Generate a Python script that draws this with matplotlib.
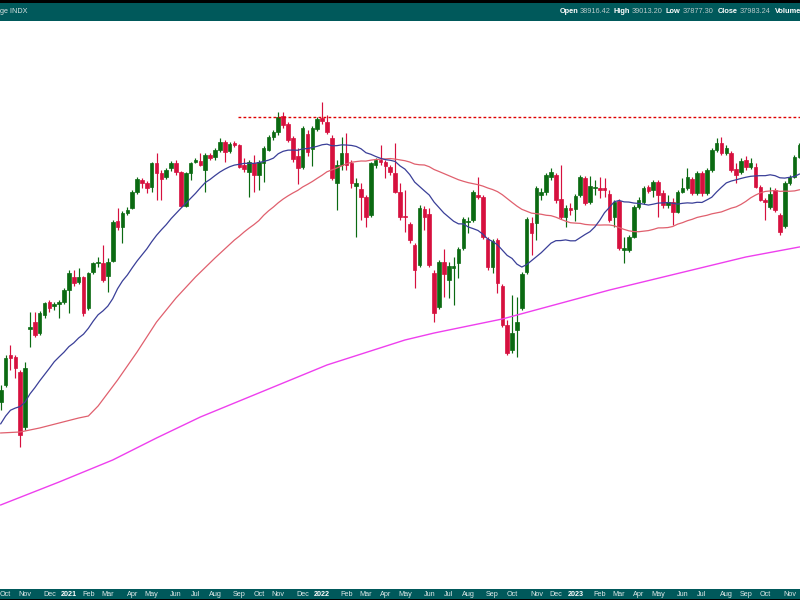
import numpy as np
import pandas as pd
import matplotlib
matplotlib.use("Agg")
import matplotlib.pyplot as plt
from matplotlib.patches import Rectangle

# ---------------- data (weekly candles, Dow Jones Industrial Average) ----------------
start_date = "2020-10-02"

opens = [
    27351, 27821, 28671, 28613, 28186, 26673, 29428, 29635, 29310, 29845,
    30236, 30115, 30175, 30236, 30601, 31004, 30848, 31004, 30055, 31160,
    31427, 31443, 31035, 31506, 32794, 32598, 33060, 33225, 33763, 34172,
    34068, 33932, 34760, 34413, 34274, 34585, 34760, 34447, 33292, 34413,
    34795, 34830, 34516, 35039, 34969, 35215, 35499, 35180, 35463, 35392,
    34690, 34447, 34760, 34344, 34760, 35215, 35677, 35856, 36437, 36145,
    35641, 35004, 34620, 35785, 35250, 35965, 36364, 36218, 35641, 34068,
    34690, 35110, 34760, 33966, 33864, 33594, 32993, 34690, 34865, 34795,
    34620, 34413, 33763, 32960, 32696, 32015, 31380, 33192, 33026, 31128,
    30085, 31474, 30910, 31285, 31443, 31919, 32760, 32828, 33661, 33594,
    32208, 31316, 32176, 30725, 29546, 28815, 29399, 30055, 31160, 32729,
    32729, 33661, 33763, 34274, 34344, 33527, 32927, 33225, 33192, 33661,
    34240, 33426, 33898, 33898, 33898, 33696, 32927, 33459, 31855, 31855,
    32273, 33258, 33426, 33932, 33830, 34103, 33729, 33325, 33426, 33093,
    33763, 33898, 34206, 33729, 34413, 33729, 34516, 35215, 35463, 35110,
    35110, 34551, 34447, 34865, 34620, 34620, 33932, 33493, 33258, 33830,
    32993, 32631, 34068, 34274, 34969]

highs = [
    27821, 28671, 28960, 28671, 28243, 28470, 29934, 29934, 29965, 30236,
    30297, 30236, 30297, 30663, 31223, 31223, 31285, 31035, 31160, 31474,
    31632, 32015, 31600, 32828, 33225, 33126, 33258, 33830, 34274, 34240,
    34137, 34795, 35110, 34516, 34585, 34830, 34865, 34482, 34447, 34795,
    34935, 35110, 35110, 35110, 35286, 35641, 35570, 35499, 35534, 35428,
    34935, 34865, 35039, 34865, 35357, 35749, 35929, 36583, 36583, 36218,
    35713, 35286, 36073, 35929, 36073, 36400, 36952, 36473, 35749, 34865,
    35677, 35821, 34865, 34240, 34068, 33661, 34795, 34935, 35392, 34865,
    34690, 35463, 34068, 33830, 32760, 32080, 33325, 33292, 33225, 31223,
    31537, 31887, 31474, 31632, 31951, 32927, 32927, 33830, 34274, 33661,
    32273, 32208, 32240, 30786, 29696, 30449, 30388, 31160, 32927, 32927,
    33966, 33898, 34413, 34585, 34413, 34690, 33325, 33392, 33696, 34344,
    34309, 34309, 34172, 34274, 34240, 33830, 33493, 33527, 32273, 32338,
    33325, 33594, 33966, 34000, 34172, 34172, 33830, 33661, 33561, 33830,
    34240, 34585, 34274, 34482, 34482, 34585, 35286, 35641, 35677, 35392,
    35180, 34760, 34935, 35004, 34935, 34760, 34000, 33561, 33932, 33898,
    33060, 34137, 34344, 35039, 35463]

lows = [
    27133, 27765, 28243, 28017, 26144, 26593, 28902, 29193, 29251, 29755,
    29935, 29995, 29755, 30175, 29905, 30725, 30786, 29815, 29995, 31097,
    31316, 30848, 30541, 31474, 32500, 32080, 32993, 33192, 33696, 33898,
    33729, 33763, 33493, 33493, 34206, 34482, 34344, 33258, 33258, 34172,
    34760, 34655, 33763, 34865, 34865, 35145, 34795, 35110, 35321, 34585,
    34447, 33594, 33763, 33830, 34103, 35180, 35570, 35749, 36000, 35499,
    34795, 34034, 34551, 35004, 34655, 35893, 36145, 35785, 34172, 33159,
    34516, 34516, 33898, 32273, 32828, 32598, 32927, 34585, 34690, 34240,
    34344, 33729, 32828, 32435, 32080, 30663, 31316, 32500, 31316, 29635,
    30025, 30388, 30358, 30146, 30973, 31855, 32403, 32760, 33527, 32208,
    31223, 31128, 30510, 29487, 28671, 28728, 28613, 29995, 31097, 31695,
    32176, 33493, 33661, 34172, 33392, 32861, 32598, 32993, 32794, 33594,
    33325, 33359, 33661, 33561, 33594, 32760, 32598, 31855, 31442, 31791,
    32240, 33192, 33359, 33729, 33594, 32927, 33225, 33225, 32663, 33060,
    33729, 33830, 33661, 33661, 33627, 33661, 34447, 35145, 35039, 35039,
    34447, 34068, 34378, 34516, 34551, 33898, 33459, 32828, 33192, 33093,
    32338, 32565, 34000, 34240, 34935]

closes = [
    27681, 28584, 28584, 28300, 26460, 28300, 29487, 29251, 29905, 30205,
    30055, 30175, 30236, 30601, 31128, 30817, 31004, 29905, 31128, 31443,
    31459, 30910, 31474, 32760, 32598, 33060, 33159, 33763, 34206, 34068,
    33898, 34760, 34413, 34206, 34516, 34760, 34447, 33292, 34413, 34760,
    34865, 34690, 35039, 34934, 35215, 35499, 35145, 35428, 35392, 34620,
    34551, 34795, 34344, 34795, 35286, 35677, 35856, 36400, 36109, 35570,
    34899, 34585, 36000, 35145, 36000, 36327, 36255, 35856, 34240, 34690,
    35110, 34690, 34068, 34068, 33594, 32927, 34760, 34865, 34795, 34655,
    34447, 33763, 32927, 32911, 32176, 31223, 33225, 32927, 31380, 29905,
    31474, 31097, 31348, 31348, 31887, 32861, 32794, 33763, 33594, 32273,
    31316, 32144, 30817, 29546, 28728, 29310, 29635, 31097, 32861, 32403,
    33898, 33763, 34344, 34447, 33493, 32927, 33225, 33159, 33627, 34274,
    33392, 33966, 33932, 33830, 33830, 32828, 33426, 31919, 31919, 32273,
    33258, 33493, 33898, 33797, 34103, 33661, 33325, 33426, 33093, 33763,
    33898, 34274, 33729, 34413, 33729, 34516, 35215, 35463, 35110, 35286,
    34516, 34344, 34830, 34620, 34760, 33932, 33493, 33426, 33696, 33159,
    32435, 34068, 34274, 34969, 35392]

# 20-week average for the first weeks (before 20 visible closes exist)
ma20_lead = [26759, 26965, 27125, 27185, 27227, 27349, 27572, 27744, 27935, 28112,
             28291, 28478, 28618, 28752, 28912, 29020, 29164, 29276, 29449]
# 50-week average for the early weeks (week index, value)
ma50_lead_idx = [0, 4, 8, 12, 16, 18, 20, 22, 24, 28, 32, 36, 40, 44, 48]
ma50_lead_val = [26514, 26540, 26647, 26780, 26915, 26969, 27241, 27598, 27960,
                 28757, 29635, 30358, 31004, 31600, 32176]
# 200-week average (week index, value)
ma200_idx = [0, 12, 23, 32, 41, 54, 67, 83, 89, 96, 103, 125, 142, 153, 164]
ma200_val = [24667, 25242, 25805, 26381, 26942, 27654, 28385, 29105, 29310,
             29517, 29725, 30601, 31223, 31632, 31951]

resistance_level = 36410

header_left = "ge INDX"
header_fields = [("Open", "38916.42"), ("High", "39013.20"),
                 ("Low", "37877.30"), ("Close", "37983.24"), ("Volume", "")]

# ---------------- figure ----------------
n = min(len(opens), len(highs), len(lows), len(closes))
dates = pd.date_range(start_date, periods=n, freq="W-FRI")
xs = np.arange(n)
o = np.array(opens[:n], float)
h = np.array(highs[:n], float)
l = np.array(lows[:n], float)
c = np.array(closes[:n], float)

W, H = 800, 600
fig = plt.figure(figsize=(8, 6), dpi=100)
fig.patch.set_facecolor("white")

TEAL = "#00595b"
# header band
fig.add_artist(Rectangle((0, 1 - 20.5 / H), 1, 20.5 / H, transform=fig.transFigure,
                         facecolor=TEAL, edgecolor="none", zorder=-2))
fig.add_artist(Rectangle((0, 1 - 2.7 / H), 1, 2.7 / H, transform=fig.transFigure,
                         facecolor="black", edgecolor="none", zorder=-1))
# bottom band
fig.add_artist(Rectangle((0, 0), 1, 11 / H, transform=fig.transFigure,
                         facecolor=TEAL, edgecolor="none", zorder=-2))
fig.add_artist(Rectangle((0, 0), 1, 1.5 / H, transform=fig.transFigure,
                         facecolor="black", edgecolor="none", zorder=-1))

ax = fig.add_axes([0, 11 / H, 1, (589 - 20.5) / H])
ax.set_facecolor("white")
ax.set_yscale("log")

GREEN = "#0b6a12"
RED = "#d6103e"
up = c >= o
cols = np.where(up, GREEN, RED)

# wicks
ax.vlines(xs, l, h, colors=cols, linewidth=0.85, zorder=2)
# bodies
bottoms = np.minimum(o, c)
heights = np.abs(c - o)
ax.bar(xs, heights, bottom=bottoms, width=0.74, color=cols, edgecolor=cols,
       linewidth=0.5, zorder=3)

# moving averages
s = pd.Series(c)
ma20 = s.rolling(20).mean().to_numpy()
ma50 = s.rolling(50).mean().to_numpy()
bx = list(range(len(ma20_lead))) + list(range(19, n))
by = list(ma20_lead) + list(ma20[19:])
rx = list(ma50_lead_idx) + list(range(49, n))
ry = list(ma50_lead_val) + list(ma50[49:])

ax.plot(ma200_idx, ma200_val, color="#ee3fee", linewidth=1.0, zorder=4)
ax.plot(rx, ry, color="#e0606e", linewidth=0.9, zorder=4)
ax.plot(bx, by, color="#3a3f98", linewidth=0.9, zorder=5)

# resistance line
ax.plot([48.7, n + 5], [resistance_level, resistance_level], color="#e00000",
        linewidth=1.0, linestyle=(0, (2.0, 1.6)), zorder=5)

ax.set_xlim(-0.144, 164.13)
ax.set_ylim(22673, 40100)
for sp in ax.spines.values():
    sp.set_visible(False)
ax.yaxis.set_visible(False)
ax.minorticks_off()

# month labels: first weekly bar whose week (starting Monday) begins in a new month
pos, labs, is_year = [], [], []
week_starts = dates - pd.Timedelta(days=4)
prev_month = week_starts[0].month
for i, ws in enumerate(week_starts):
    if i > 0 and ws.month != prev_month:
        pos.append(i)
        if ws.month == 1:
            labs.append(str(ws.year))
            is_year.append(True)
        else:
            labs.append(ws.strftime("%b"))
            is_year.append(False)
    prev_month = ws.month
ax.set_xticks(pos)
ax.set_xticklabels(labs)
ax.tick_params(axis="x", length=0, pad=1.2)
for t, yr in zip(ax.get_xticklabels(), is_year):
    t.set_fontfamily("Liberation Sans")
    if yr:
        t.set_fontsize(5.2)
        t.set_fontweight("bold")
        t.set_color("white")
    else:
        t.set_fontsize(5.2)
        t.set_color("#dfe9e9")

# header texts
fig.text(0.5 / W, 1 - 11.5 / H, header_left, ha="left", va="center",
         fontsize=5.2, color="#d8e2e2", family="Liberation Sans")
xpos = [(560, 580), (613, 632), (666, 683), (718, 740), (775, None)]
for (lab, val), (xl, xv) in zip(header_fields, xpos):
    fig.text(xl / W, 1 - 11.5 / H, lab, ha="left", va="center", fontsize=5.3,
             fontweight="bold", color="white", family="Liberation Sans")
    if xv is not None and val:
        fig.text(xv / W, 1 - 11.5 / H, val, ha="left", va="center", fontsize=5.3,
                 color="#b8c9c9", family="Liberation Sans")

fig.savefig("out.png", dpi=100)
